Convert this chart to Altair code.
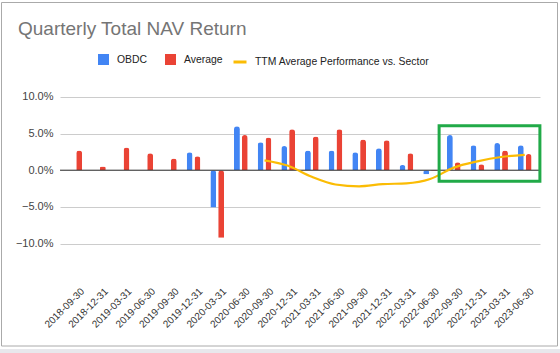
import altair as alt
import pandas as pd

dates = ["2018-09-30", "2018-12-31", "2019-03-31", "2019-06-30", "2019-09-30",
         "2019-12-31", "2020-03-31", "2020-06-30", "2020-09-30", "2020-12-31",
         "2021-03-31", "2021-06-30", "2021-09-30", "2021-12-31", "2022-03-31",
         "2022-06-30", "2022-09-30", "2022-12-31", "2023-03-31", "2023-06-30"]
obdc = [None, None, None, None, None, 2.45, -5.1, 6.0, 3.8, 3.3,
        2.7, 2.7, 2.45, 3.0, 0.7, -0.55, 4.8, 3.4, 3.7, 3.4]
average = [2.7, 0.5, 3.1, 2.3, 1.6, 1.9, -9.2, 4.8, 4.45, 5.6,
           4.6, 5.6, 4.2, 4.1, 2.3, -0.1, 1.1, 0.8, 2.7, 2.2]
ttm = [None, None, None, None, None, None, None, None, 1.35, 0.6,
       -0.9, -1.95, -2.2, -1.9, -1.8, -1.2, 0.35, 1.2, 1.8, 2.1]
series_names = ["OBDC", "Average"]
line_name = "TTM Average Performance vs. Sector"
y_ticks = [-10, -5, 0, 5, 10]
highlight = {"start": "2022-09-30", "end": "2023-06-30", "top": 6.05, "bottom": -1.5}

FONT = "Liberation Sans"

rows = []
for d, o, a in zip(dates, obdc, average):
    if o is not None:
        rows.append({"date": d, "series": "OBDC", "value": o})
    if a is not None:
        rows.append({"date": d, "series": "Average", "value": a})
bars_df = pd.DataFrame(rows)
line_df = pd.DataFrame([{"date": d, "series": line_name, "value": v}
                        for d, v in zip(dates, ttm) if v is not None])
box_df = pd.DataFrame([highlight])

yscale = alt.Scale(domain=[-14.7, 10.8], nice=False, zero=False)
xscale = alt.Scale(domain=dates, paddingInner=0.42, paddingOuter=0.355)

xaxis = alt.Axis(title=None, labelAngle=-45, labelAlign="right", labelBaseline="top",
                 labelFontSize=10, labelColor="#333333", labelFont=FONT, labelPadding=8,
                 labelOffset=4, ticks=False, domain=False, grid=False, labelOverlap=False)
yaxis = alt.Axis(title=None, values=y_ticks, labelExpr="format(datum.value, '.1f') + '%'",
                 labelFontSize=11, labelColor="#444444", labelFont=FONT, labelPadding=7,
                 ticks=False, domain=False, grid=True, gridColor="#cccccc")

bars = alt.Chart(bars_df).mark_bar(cornerRadiusEnd=3).encode(
    x=alt.X("date:N", scale=xscale, axis=xaxis, sort=dates),
    xOffset=alt.XOffset("series:N", scale=alt.Scale(domain=series_names, paddingInner=0.25)),
    y=alt.Y("value:Q", scale=yscale, axis=yaxis),
    color=alt.Color("series:N",
                    scale=alt.Scale(domain=series_names, range=["#4285F4", "#EA4335"]),
                    legend=alt.Legend(title=None, orient="none", direction="horizontal",
                                      legendX=38, legendY=-37, padding=0,
                                      symbolType="square", symbolSize=121, symbolStrokeWidth=0,
                                      labelFontSize=10.4, labelFont=FONT, labelColor="#222222",
                                      labelOffset=8, columnPadding=17, labelLimit=300)),
)

zero = alt.Chart(pd.DataFrame({"v": [0]})).mark_rule(color="#333333", strokeWidth=1).encode(
    y=alt.Y("v:Q", scale=yscale, axis=yaxis)
)

line = alt.Chart(line_df).mark_line(strokeWidth=2.2, interpolate="monotone").encode(
    x=alt.X("date:N", scale=xscale, sort=dates),
    y=alt.Y("value:Q", scale=yscale),
    stroke=alt.Stroke("series:N",
                      scale=alt.Scale(domain=[line_name], range=["#FBBC04"]),
                      legend=alt.Legend(title=None, orient="none", direction="horizontal",
                                        legendX=172, legendY=-37, padding=0,
                                        symbolType="stroke", symbolSize=169, symbolStrokeWidth=3,
                                        labelFontSize=10.4, labelFont=FONT, labelColor="#222222",
                                        labelOffset=7, labelLimit=300)),
)

box = alt.Chart(box_df).mark_rect(fill=None, stroke="#21AA48", strokeWidth=3,
                                  xOffset=-7.8, x2Offset=8.3).encode(
    x=alt.X("start:N", scale=xscale, bandPosition=0),
    x2=alt.X2("end", bandPosition=1),
    y=alt.Y("top:Q", scale=yscale),
    y2="bottom:Q",
)

frame = alt.Chart(pd.DataFrame({"k": [0]})).mark_rect(fill=None, stroke="#aaaaaa", strokeWidth=1).encode(
    x=alt.value(-58.5), x2=alt.value(497.5), y=alt.value(-88.5), y2=alt.value(255)
)
strip = alt.Chart(pd.DataFrame({"k": [0]})).mark_rect(fill="#e8e8ec").encode(
    x=alt.value(-60), x2=alt.value(500), y=alt.value(258), y2=alt.value(262)
)

chart = alt.layer(strip, frame, bars, zero, line, box).properties(
    width=480, height=187,
    autosize=alt.AutoSizeParams(type="none"),
    padding={"left": 60, "top": 91, "right": 20, "bottom": 75},
    background="white",
    title=alt.TitleParams("Quarterly Total NAV Return", anchor="start", frame="group",
                          dx=-42, offset=-52, baseline="alphabetic", fontSize=19, font=FONT,
                          fontWeight="normal", color="#757575"),
).configure_view(strokeWidth=0, stroke=None)

chart.save("out.html", embed_options={"renderer": "svg", "actions": False})
